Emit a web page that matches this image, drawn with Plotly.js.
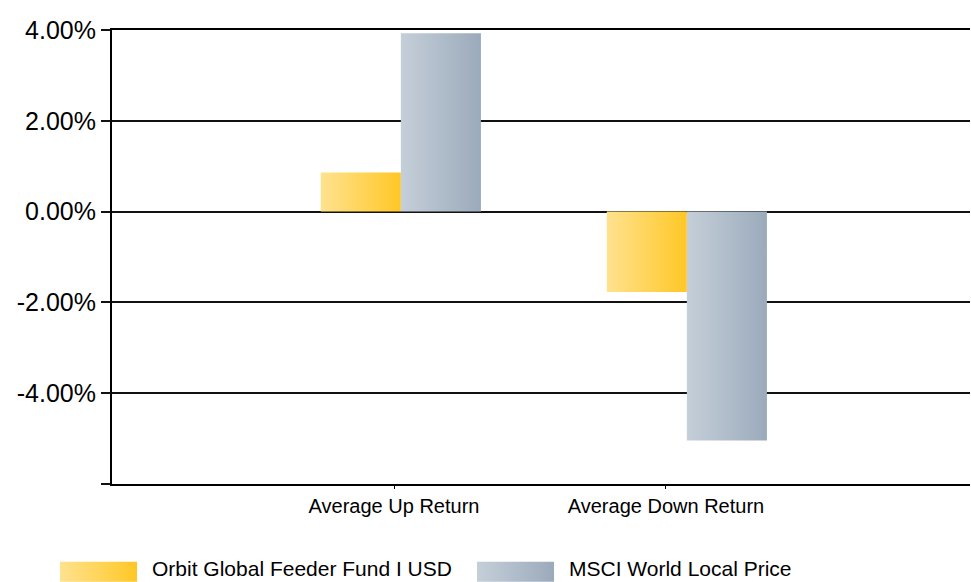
<!DOCTYPE html>
<html>
<head>
<meta charset="utf-8">
<script src="https://cdn.plot.ly/plotly-3.0.1.min.js"></script>
<style>html,body{margin:0;padding:0;background:#fff}#chart{width:971px;height:582px}</style>
</head>
<body>
<div id="chart"></div>
<script>
var categories = ['Average Up Return', 'Average Down Return'];
var seriesNames = ['Orbit Global Feeder Fund I USD', 'MSCI World Local Price'];
var orbitValues = [0.86, -1.77];
var msciValues = [3.93, -5.04];
var yTickValues = [-6, -4, -2, 0, 2, 4];
var yTickLabels = ['', '-4.00%', '-2.00%', '0.00%', '2.00%', '4.00%'];

var gradients = [
  {id: 'gradOrbit', from: '#FFE28F', to: '#FFC726'},
  {id: 'gradMsci', from: '#C5CFD9', to: '#9BAABB'}
];

var traces = [
  {type: 'bar', name: seriesNames[0], x: categories, y: orbitValues,
   marker: {color: '#FFD45C', line: {width: 0}}, hoverinfo: 'skip'},
  {type: 'bar', name: seriesNames[1], x: categories, y: msciValues,
   marker: {color: '#B3BFCC', line: {width: 0}}, hoverinfo: 'skip'},
  {type: 'scatter', mode: 'markers', x: categories, y: [0, 0], xaxis: 'x2',
   marker: {opacity: 0}, showlegend: false, hoverinfo: 'skip'}
];

var layout = {
  width: 971, height: 582,
  margin: {l: 112, r: 1, t: 30, b: 98},
  paper_bgcolor: '#fff', plot_bgcolor: '#fff',
  font: {family: 'Liberation Sans, Arial, sans-serif', color: '#000'},
  barmode: 'group', bargap: 0.44, bargroupgap: 0,
  showlegend: true,
  legend: {orientation: 'h', xref: 'container', yref: 'container', x: 57 / 971, xanchor: 'left',
           y: 14 / 582, yanchor: 'middle', font: {size: 21}, itemwidth: 85, entrywidth: 317,
           traceorder: 'normal', itemclick: false},
  xaxis: {type: 'category', range: [-1.01, 1.99], showticklabels: false, showgrid: false,
          zeroline: false, showline: true, mirror: true, linecolor: '#000', linewidth: 2, ticks: ''},
  xaxis2: {type: 'category', overlaying: 'x', anchor: 'y', side: 'bottom', range: [-1.037, 2.118],
           showgrid: false, zeroline: false, showline: false, ticks: 'outside', ticklen: 4,
           tickwidth: 1, tickcolor: '#000', tickfont: {size: 20}},
  yaxis: {range: [-6, 4], tickmode: 'array', tickvals: yTickValues, ticktext: yTickLabels,
          tickfont: {size: 25},
          showgrid: true, gridcolor: '#111', gridwidth: 2,
          zeroline: true, zerolinecolor: '#111', zerolinewidth: 2,
          showline: true, linecolor: '#000', linewidth: 2,
          ticks: 'outside', ticklen: 9, tickwidth: 2, tickcolor: '#111'}
};

Plotly.newPlot('chart', traces, layout, {staticPlot: true, displayModeBar: false}).then(function (gd) {
  var svgNS = 'http://www.w3.org/2000/svg';
  var svg = gd.querySelector('.main-svg');
  var defs = svg.querySelector('defs');
  if (!defs) { defs = document.createElementNS(svgNS, 'defs'); svg.insertBefore(defs, svg.firstChild); }
  gradients.forEach(function (g) {
    var lg = document.createElementNS(svgNS, 'linearGradient');
    lg.setAttribute('id', g.id);
    lg.setAttribute('x1', '0'); lg.setAttribute('y1', '0');
    lg.setAttribute('x2', '1'); lg.setAttribute('y2', '0');
    [[0, g.from], [1, g.to]].forEach(function (s) {
      var st = document.createElementNS(svgNS, 'stop');
      st.setAttribute('offset', s[0]);
      st.setAttribute('stop-color', s[1]);
      lg.appendChild(st);
    });
    defs.appendChild(lg);
  });
  var barTraces = gd.querySelectorAll('.barlayer .trace');
  barTraces.forEach(function (t, i) {
    t.querySelectorAll('path').forEach(function (p) { p.style.fill = 'url(#' + gradients[i].id + ')'; });
  });
  var legendItems = gd.querySelectorAll('.legend .traces');
  legendItems.forEach(function (t, i) {
    t.querySelectorAll('.legendpoints path').forEach(function (p) {
      p.setAttribute('d', 'M-44.5,-6h77v20h-77z');
      p.style.fill = 'url(#' + gradients[i].id + ')';
      p.style.stroke = 'none';
    });
  });
});
</script>
</body>
</html>
